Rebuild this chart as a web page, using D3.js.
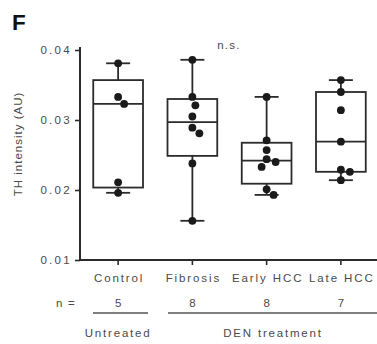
<!DOCTYPE html>
<html><head><meta charset="utf-8">
<script src="https://cdn.jsdelivr.net/npm/d3@7"></script>
<style>
body{margin:0;background:#fff;}
svg{display:block;font-family:"Liberation Sans",Arial,sans-serif;}
</style></head>
<body><svg id="c" width="377" height="344"></svg>
<script>
const categories = ["Control","Fibrosis","Early HCC","Late HCC"];
const controlValues = [0.0381,0.0333,0.0323,0.0211,0.0196];
const fibrosisValues = [0.0386,0.0333,0.0321,0.0305,0.0289,0.0281,0.0238,0.0156];
const earlyValues = [0.0333,0.0271,0.0257,0.0244,0.0240,0.0233,0.0201,0.0193];
const lateValues = [0.0357,0.0340,0.0314,0.0269,0.0229,0.0226,0.0214];
const seriesValues = [controlValues,fibrosisValues,earlyValues,lateValues];
const nLabels = ["5","8","8","7"];
const yTicks = [0.01,0.02,0.03,0.04];
const groupLabels = ["Untreated","DEN treatment"];
const groupMembers = [["Control"],["Fibrosis","Early HCC","Late HCC"]];

const svg = d3.select("#c");
const ink = "#2b2b2b", txt = "#4a4a4a";
const y = d3.scaleLinear().domain([0.01,0.04]).range([260,50]);
const x = d3.scaleBand().domain(categories).range([81,378]);

// Prism-style quartiles (n+1 basis)
function q(sorted,p){
  const pos = p*(sorted.length+1);
  const lo = Math.floor(pos), hi = Math.ceil(pos);
  const a = sorted[Math.max(0,Math.min(sorted.length-1,lo-1))];
  const b = sorted[Math.max(0,Math.min(sorted.length-1,hi-1))];
  return a + (b-a)*(pos-lo);
}

// axes
const yAxis = d3.axisLeft(y).tickValues(yTicks).tickSize(5).tickPadding(3).tickFormat(d3.format(".2f"));
const gy = svg.append("g").attr("transform","translate(80,0)").call(yAxis);
gy.select(".domain").attr("stroke",ink).attr("stroke-width",2).attr("d","M0,47V260");
gy.selectAll(".tick line").attr("stroke",ink).attr("stroke-width",1.6);
gy.selectAll(".tick text").attr("fill",txt).style("font-size","11.5px").style("letter-spacing","2.3px");

const xAxis = d3.axisBottom(x).tickSize(5).tickPadding(9);
const gx = svg.append("g").attr("transform","translate(0,260)").call(xAxis);
gx.select(".domain").attr("stroke",ink).attr("stroke-width",2).attr("d","M80,0H377");
gx.selectAll(".tick line").attr("stroke",ink).attr("stroke-width",1.6);
gx.selectAll(".tick text").attr("fill",txt).style("font-size","11.5px").style("letter-spacing","1.9px").attr("dx","1");

// y title
svg.append("text").attr("transform","translate(22,144) rotate(-90)").attr("text-anchor","middle")
  .attr("fill",txt).style("font-size","11.5px").style("letter-spacing","1px").text("TH intensity (AU)");

// panel letter
svg.append("text").attr("x",12).attr("y",30).attr("font-weight","bold").style("font-size","22.5px").attr("fill","#111").text("F");

// n.s.
svg.append("text").attr("x",229).attr("y",49).attr("text-anchor","middle").attr("fill",txt)
  .style("font-size","11.5px").style("letter-spacing","1.3px").text("n.s.");

// boxes
const bw = x.bandwidth()*0.67, cw = 24, r = 3.9;
categories.forEach((c,i)=>{
  const vals = seriesValues[i].slice().sort(d3.ascending);
  const cx = x(c)+x.bandwidth()/2;
  const q1=q(vals,0.25), med=q(vals,0.5), q3=q(vals,0.75), mn=vals[0], mx=vals[vals.length-1];
  const g = svg.append("g").attr("stroke",ink).attr("stroke-width",1.8).attr("fill","none");
  g.append("line").attr("x1",cx).attr("x2",cx).attr("y1",y(mx)).attr("y2",y(q3));
  g.append("line").attr("x1",cx).attr("x2",cx).attr("y1",y(q1)).attr("y2",y(mn));
  g.append("line").attr("x1",cx-cw/2).attr("x2",cx+cw/2).attr("y1",y(mx)).attr("y2",y(mx));
  g.append("line").attr("x1",cx-cw/2).attr("x2",cx+cw/2).attr("y1",y(mn)).attr("y2",y(mn));
  g.append("rect").attr("x",cx-bw/2).attr("width",bw).attr("y",y(q3)).attr("height",y(q1)-y(q3));
  g.append("line").attr("x1",cx-bw/2).attr("x2",cx+bw/2).attr("y1",y(med)).attr("y2",y(med));

  // simple deterministic dodge (beeswarm)
  const placed=[];
  seriesValues[i].forEach(v=>{
    const py=y(v);
    let off=0;
    for(let k=0;k<60;k++){
      const cand = k===0?0:(k%2? 1:-1)*Math.ceil(k/2);
      if(placed.every(p=>Math.hypot(p.x-cand,p.y-py)>=2*r+1)){off=cand;break;}
    }
    placed.push({x:off,y:py});
  });
  svg.append("g").selectAll("circle").data(placed).join("circle")
    .attr("cx",d=>cx+d.x).attr("cy",d=>d.y).attr("r",r).attr("fill","#1a1a1a");

  // n labels
  svg.append("text").attr("x",cx).attr("y",307).attr("text-anchor","middle").attr("fill",txt)
    .style("font-size","11.5px").text(nLabels[i]);
});

svg.append("text").attr("x",66).attr("y",307).attr("text-anchor","middle").attr("fill",txt)
  .style("font-size","11.5px").style("letter-spacing","1.2px").text("n =");

// group lines
const groupExtents = [[93,148],[168,377]];
groupLabels.forEach((lab,i)=>{
  const cs = groupMembers[i];
  const e = groupExtents[i];
  svg.append("line").attr("x1",e[0]).attr("x2",e[1]).attr("y1",313).attr("y2",313)
    .attr("stroke","#555").attr("stroke-width",1.5);
  const mid = i===0 ? x(cs[0])+x.bandwidth()/2 : 273;
  svg.append("text").attr("x",mid).attr("y",337).attr("text-anchor","middle").attr("fill",txt)
    .style("font-size","11.5px").style("letter-spacing","1.8px").text(lab);
});
</script></body></html>
